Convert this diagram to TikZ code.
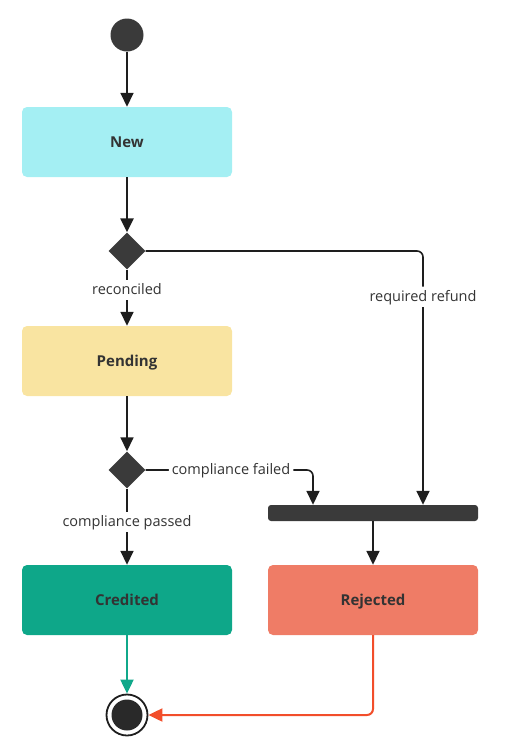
\documentclass[tikz,border=0pt]{standalone}
\usepackage{fontspec}
\setmainfont{Open Sans}
\usetikzlibrary{arrows.meta,shapes.geometric}
\definecolor{inkgray}{HTML}{333333}
\definecolor{darkfill}{HTML}{3A3A3A}
\definecolor{newcol}{HTML}{A4EFF3}
\definecolor{pendcol}{HTML}{F9E4A1}
\definecolor{credcol}{HTML}{0EA789}
\definecolor{rejcol}{HTML}{EF7C66}
\definecolor{tealline}{HTML}{10A88A}
\definecolor{redline}{HTML}{F24E2B}
\definecolor{lineblk}{HTML}{1E1E1E}
\begin{document}
\begin{tikzpicture}[x=1pt, y=-1pt,
    state/.style={rectangle, rounded corners=5pt, minimum width=210pt, minimum height=70pt,
      text=inkgray, font=\fontsize{15}{18}\selectfont\bfseries, inner sep=0pt,
      text height=2.45ex, text depth=0.45ex},
    choice/.style={diamond, fill=darkfill, minimum size=37pt, inner sep=0pt},
    flow/.style={draw=lineblk, line width=1.6pt, -{Triangle[width=13pt,length=14pt]}},
    guard/.style={fill=white, text=inkgray, font=\fontsize{14.5}{17}\selectfont, inner sep=3pt,
      text height=2.2ex, text depth=0.45ex}]
    \useasboundingbox (0,0) rectangle (506,756);
    % states
    \node[circle, fill=darkfill, minimum size=33pt, inner sep=0pt] (start) at (127,35) {};
    \node[state, fill=newcol] (new) at (127,142) {New};
    \node[choice] (d1) at (127,251) {};
    \node[state, fill=pendcol] (pending) at (127,361) {Pending};
    \node[choice] (d2) at (127,470) {};
    \node[state, fill=credcol] (credited) at (127,600) {Credited};
    \node[rectangle, rounded corners=3pt, fill=darkfill, minimum width=210pt,
      minimum height=16pt, inner sep=0pt] (bar) at (373,513) {};
    \node[state, fill=rejcol] (rejected) at (373,600) {Rejected};
    \node[circle, draw=lineblk, line width=1.8pt, fill=white, minimum size=41pt,
      inner sep=0pt] (fin) at (127,715) {};
    \node[circle, fill=lineblk!95, minimum size=31pt, inner sep=0pt] (fincore) at (fin) {};
    \coordinate (refund) at (423,0);
    \coordinate (failed) at (313,0);
    % transitions
    \draw[flow] (start) -- (new);
    \draw[flow, line width=2.4pt] (new) -- (d1);
    \draw[flow] (d1) -- node[guard, pos=0.36] {reconciled} (pending);
    \draw[flow, rounded corners=6pt] (d1.east) -| node[guard, pos=0.59] {required refund}
      (bar.north -| refund);
    \draw[flow] (pending) -- (d2);
    \draw[flow] (d2) -- node[guard, pos=0.44] {compliance passed} (credited);
    \draw[flow, rounded corners=6pt] (d2.east) -| node[guard, pos=0.255] {compliance failed}
      (bar.north -| failed);
    \draw[flow] (bar) -- (rejected);
    \draw[flow, draw=tealline, line width=2pt] (credited) -- (fin);
    \draw[flow, draw=redline, line width=2pt, rounded corners=6pt] (rejected.south) |- (fin.east);
\end{tikzpicture}
\end{document}
